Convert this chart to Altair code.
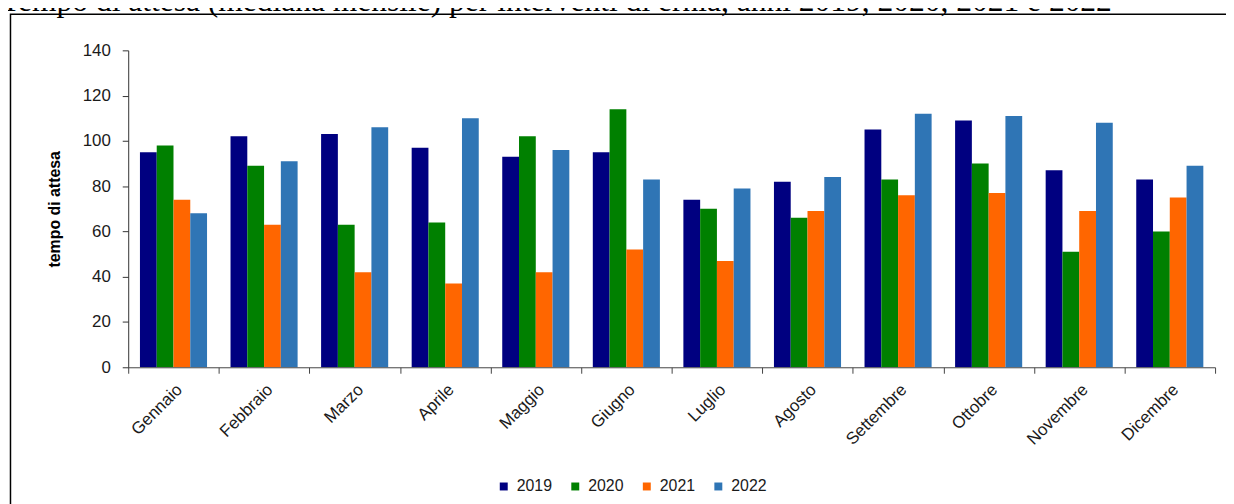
import altair as alt
import pandas as pd

TITLE = "Tempo di attesa (mediana mensile) per interventi di ernia, anni 2019, 2020, 2021 e 2022"
Y_TITLE = "tempo di attesa"
MONTHS = ["Gennaio", "Febbraio", "Marzo", "Aprile", "Maggio", "Giugno",
          "Luglio", "Agosto", "Settembre", "Ottobre", "Novembre", "Dicembre"]
YEARS = ["2019", "2020", "2021", "2022"]
V2019 = [95, 102, 103, 97, 93, 95, 74, 82, 105, 109, 87, 83]
V2020 = [98, 89, 63, 64, 102, 114, 70, 66, 83, 90, 51, 60]
V2021 = [74, 63, 42, 37, 42, 52, 47, 69, 76, 77, 69, 75]
V2022 = [68, 91, 106, 110, 96, 83, 79, 84, 112, 111, 108, 89]
COLORS = ["#000080", "#008000", "#FF6600", "#2F75B5"]
Y_TICKS = [0, 20, 40, 60, 80, 100, 120, 140]

rows = []
for year, vals in zip(YEARS, [V2019, V2020, V2021, V2022]):
    for m, v in zip(MONTHS, vals):
        rows.append({"mese": m, "anno": year, "valore": v})
df = pd.DataFrame(rows)

FONT = "Liberation Sans"

bars = alt.Chart(df).mark_bar().encode(
    x=alt.X("mese:N", sort=MONTHS,
            scale=alt.Scale(paddingInner=0, paddingOuter=0),
            axis=alt.Axis(title=None, labelAngle=-45, tickBand="extent",
                          tickSize=6, labelPadding=8, labelFontSize=17,
                          labelFont=FONT, labelColor="#1a1a1a",
                          domainColor="#444", tickColor="#444", zindex=1)),
    xOffset=alt.XOffset("anno:N", sort=YEARS,
                        scale=alt.Scale(paddingInner=0, paddingOuter=0.7)),
    y=alt.Y("valore:Q", scale=alt.Scale(domain=[0, 140], nice=False),
            axis=alt.Axis(values=Y_TICKS, title=Y_TITLE, grid=False,
                          tickSize=6, labelPadding=12, labelFontSize=17,
                          labelFont=FONT, labelColor="#1a1a1a",
                          titleFont=FONT, titleFontSize=16, titleFontWeight="bold",
                          titleColor="#000", titlePadding=20,
                          domainColor="#333", tickColor="#333", zindex=1)),
    color=alt.Color("anno:N", scale=alt.Scale(domain=YEARS, range=COLORS),
                    legend=alt.Legend(orient="none", legendX=370, legendY=431,
                                      direction="horizontal", title=None,
                                      symbolType="square", symbolSize=64,
                                      symbolStrokeWidth=0, labelFontSize=16,
                                      labelFont=FONT, labelColor="#1a1a1a",
                                      columnPadding=15, labelOffset=5)),
)

box = alt.Chart(alt.Data(values=[{"k": 1}])).mark_rect(
    fill="white", fillOpacity=0, stroke="black", strokeWidth=1.5
).encode(
    x=alt.value(-118.5), x2=alt.value(1115), y=alt.value(-36.3), y2=alt.value(480)
)

title = alt.Chart(alt.Data(values=[{"k": 1}])).mark_text(
    text=TITLE, font="Liberation Serif", fontSize=31.7, align="left",
    baseline="alphabetic", color="black"
).encode(x=alt.value(-128), y=alt.value(-40))

chart = alt.layer(box, title, bars).properties(
    width=1094, height=319,
    autosize=alt.AutoSizeParams(type="none"),
    padding={"left": 121, "top": 41, "right": 11, "bottom": 136},
).configure_view(strokeWidth=0)

chart.save("out.html", embed_options={"renderer": "svg", "actions": False})
